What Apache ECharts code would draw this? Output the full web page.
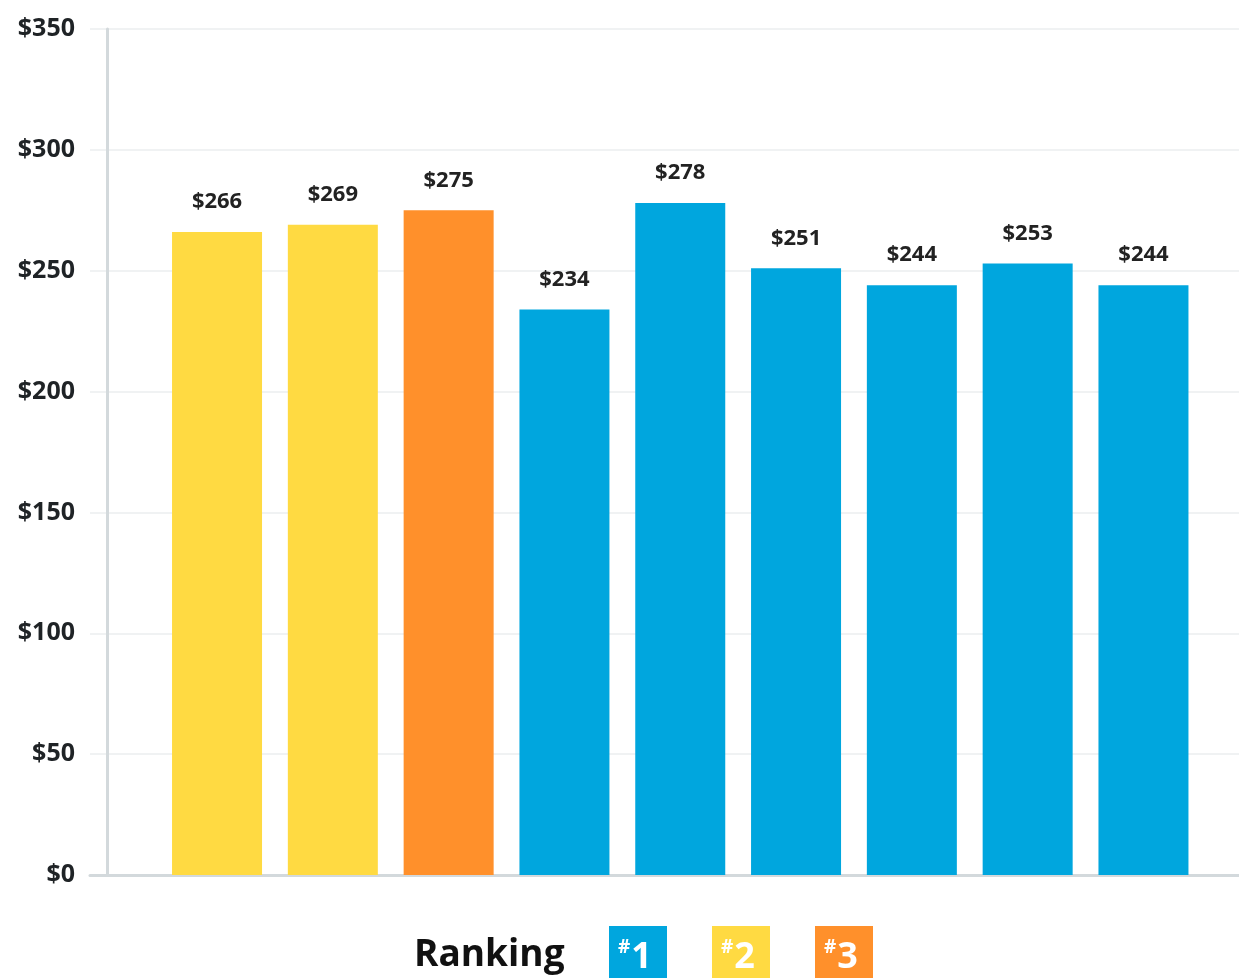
<!DOCTYPE html>
<html>
<head>
<meta charset="utf-8">
<script src="https://cdn.jsdelivr.net/npm/echarts@6/dist/echarts.min.js"></script>
<style>
html,body{margin:0;padding:0;background:#fff;}
#chart{width:1239px;height:978px;}
</style>
</head>
<body>
<div id="chart"></div>
<script>
// ---- data ----
const positions = [0, 1, 2, 3, 4, 5, 6, 7, 8];
const values = [266, 269, 275, 234, 278, 251, 244, 253, 244];
const ranks = [2, 2, 3, 1, 1, 1, 1, 1, 1];
const rankNames = ['#1', '#2', '#3'];
const rankColors = ['#00A6DE', '#FFDA42', '#FF902B'];
const yTicks = [0, 50, 100, 150, 200, 250, 300, 350];
const legendTitle = 'Ranking';

const FONT = '"Open Sans", "Noto Sans", sans-serif';

const series = rankNames.map((name, r) => ({
  name: name,
  type: 'bar',
  barWidth: 90,
  barGap: '-100%',
  itemStyle: { color: rankColors[r] },
  label: {
    show: true,
    position: 'top',
    distance: 19,
    formatter: p => '$' + p.value[1],
    fontFamily: FONT,
    fontSize: 22,
    fontWeight: 'bold',
    color: '#222'
  },
  data: positions
    .filter(i => ranks[i] === r + 1)
    .map(i => [positions[i], values[i]])
}));

const chart = echarts.init(document.getElementById('chart'));
chart.setOption({
  animation: false,
  backgroundColor: '#fff',
  grid: { left: 90, right: 0, top: 29, bottom: 103, containLabel: false },
  title: {
    text: legendTitle,
    left: 414,
    top: 937,
    padding: 0,
    textStyle: { fontFamily: FONT, fontSize: 37, fontWeight: 'bold', color: '#111' }
  },
  legend: {
    left: 604,
    top: 926,
    padding: 0,
    itemGap: 40,
    itemWidth: 0,
    itemHeight: 0,
    icon: 'rect',
    selectedMode: false,
    formatter: name => '{s|#}{n|' + name.slice(1) + '}',
    textStyle: {
      width: 49,
      height: 56,
      padding: [0, 0, 0, 9],
      color: '#fff',
      rich: {
        s: { fontFamily: FONT, fontSize: 19, fontWeight: 'bold', color: '#fff', verticalAlign: 'top', padding: [12, 1, 0, 0] },
        n: { fontFamily: FONT, fontSize: 36, fontWeight: 'bold', color: '#fff', lineHeight: 56, padding: [8, 0, 0, 0] }
      }
    },
    data: rankNames.map((n, r) => ({ name: n, textStyle: { backgroundColor: rankColors[r] } }))
  },
  xAxis: {
    type: 'value',
    min: -1.097,
    max: 8.825,
    axisLine: { show: true, onZero: false, lineStyle: { color: '#d3d9dc', width: 3 } },
    axisTick: { show: false },
    axisLabel: { show: false },
    splitLine: { show: false }
  },
  yAxis: {
    type: 'value',
    min: yTicks[0],
    max: yTicks[yTicks.length - 1],
    interval: 50,
    offset: -17,
    axisLine: { show: true, onZero: false, lineStyle: { color: '#d3d9dc', width: 3 } },
    axisTick: { show: false },
    axisLabel: {
      margin: 32,
      formatter: v => '$' + v,
      fontFamily: FONT,
      fontSize: 25,
      fontWeight: 'bold',
      color: '#1f2326'
    },
    splitLine: { show: true, lineStyle: { color: '#f0f2f3', width: 2 } }
  },
  series: series
});
</script>
</body>
</html>
